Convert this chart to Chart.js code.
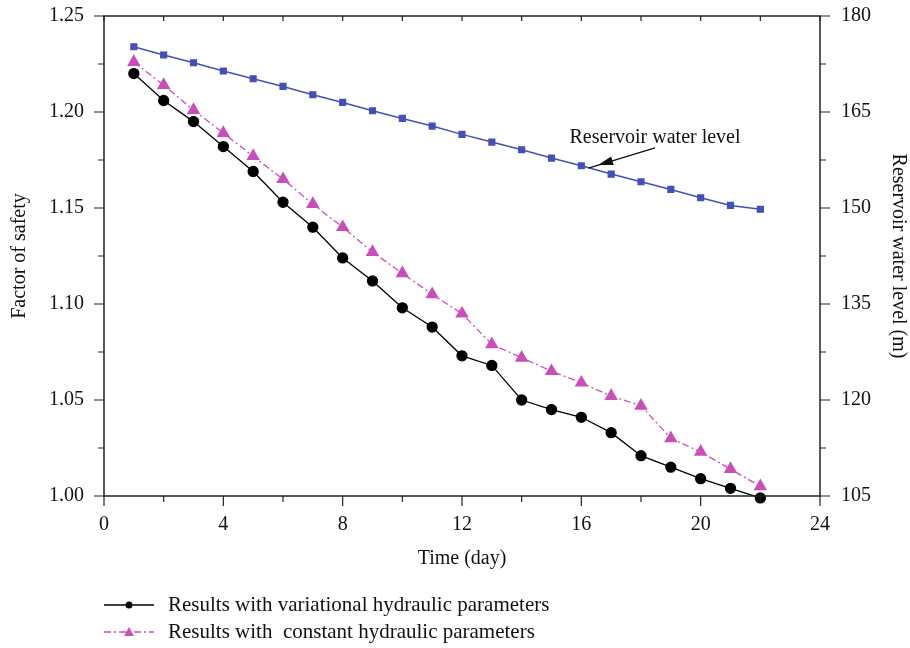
<!DOCTYPE html>
<html>
<head>
<meta charset="utf-8">
<title>Factor of safety vs time</title>
<script src="https://cdn.jsdelivr.net/npm/chart.js@4.4.1/dist/chart.umd.min.js"></script>
<style>
    html, body { margin: 0; padding: 0; background: #fff; }
    #wrap { width: 910px; height: 648px; position: relative; }
</style>
</head>
<body>
<div id="wrap"><canvas id="fosChart"></canvas></div>
<script>
// Days (x axis)
const days = [1, 2, 3, 4, 5, 6, 7, 8, 9, 10, 11, 12, 13, 14, 15, 16, 17, 18, 19, 20, 21, 22];

// Factor of safety, variational hydraulic parameters
const fosVariational = [1.220, 1.206, 1.195, 1.182, 1.169, 1.153, 1.140, 1.124, 1.112, 1.098, 1.088,
    1.073, 1.068, 1.050, 1.045, 1.041, 1.033, 1.021, 1.015, 1.009, 1.004, 0.999];

// Factor of safety, constant hydraulic parameters
const fosConstant = [1.226, 1.214, 1.201, 1.189, 1.177, 1.165, 1.152, 1.140, 1.127, 1.116, 1.105,
    1.095, 1.079, 1.072, 1.065, 1.059, 1.052, 1.047, 1.030, 1.023, 1.014, 1.005];

// Reservoir water level (m), right axis
const waterLevel = [175.2, 173.9, 172.7, 171.4, 170.2, 169.0, 167.7, 166.5, 165.2, 164.0, 162.8,
    161.5, 160.3, 159.1, 157.8, 156.6, 155.3, 154.1, 152.9, 151.6, 150.4, 149.8];

// Axis ranges / ticks
const xTicks = [0, 4, 8, 12, 16, 20, 24];
const yLeftTicks = [1.00, 1.05, 1.10, 1.15, 1.20, 1.25];
const yRightTicks = [105, 120, 135, 150, 165, 180];

const legendLabels = ['Results with variational hydraulic parameters', 'Results with  constant hydraulic parameters'];
const annotationText = 'Reservoir water level';

const FONT = "'Liberation Serif', 'DejaVu Serif', serif";
const AXIS_COLOR = '#222';

function toPoints(values) {
    return days.map((d, i) => ({ x: d, y: values[i] }));
}

// Fixed box sizes so the plot area lands where the reference has it
function fitVertical(width) {
    return s => {
        s.width = width;
        s.paddingTop = 0;
        s.paddingBottom = 0;
    };
}

// Frame, tick marks, annotation and legend
const decorPlugin = {
    id: 'decor',
    afterDraw(chart) {
        const ctx = chart.ctx;
        const area = chart.chartArea;
        const sx = chart.scales.x;
        const sy = chart.scales.y;
        const sy2 = chart.scales.y2;

        ctx.save();
        ctx.strokeStyle = AXIS_COLOR;
        ctx.lineWidth = 1.5;
        ctx.strokeRect(area.left, area.top, area.right - area.left, area.bottom - area.top);

        ctx.lineWidth = 1.2;
        ctx.beginPath();
        // x ticks: major every 4, minor every 2
        for (let v = 0; v <= 24; v += 2) {
            const px = sx.getPixelForValue(v);
            const len = v % 4 === 0 ? 10 : 6;
            ctx.moveTo(px, area.bottom);
            ctx.lineTo(px, area.bottom + len);
            ctx.moveTo(px, area.top);
            ctx.lineTo(px, area.top + 5);
        }
        // left ticks
        for (let v = 1.0; v <= 1.2501; v += 0.025) {
            const py = sy.getPixelForValue(v);
            const major = Math.abs(Math.round(v * 1000) % 50) < 1;
            ctx.moveTo(area.left - (major ? 10 : 6), py);
            ctx.lineTo(area.left, py);
        }
        // right ticks
        for (let v = 105; v <= 180.01; v += 7.5) {
            const py = sy2.getPixelForValue(v);
            const major = Math.abs((v - 105) % 15) < 0.01;
            ctx.moveTo(area.right, py);
            ctx.lineTo(area.right + (major ? 10 : 6), py);
        }
        ctx.stroke();

        // Annotation with arrow, anchored in data coordinates
        const tx = sx.getPixelForValue(18.47);
        const ty = sy2.getPixelForValue(160.9);
        ctx.fillStyle = '#111';
        ctx.font = `20px ${FONT}`;
        ctx.textAlign = 'center';
        ctx.textBaseline = 'middle';
        ctx.fillText(annotationText, tx, ty);

        const ax0 = sx.getPixelForValue(18.47), ay0 = sy2.getPixelForValue(159.4);
        const ax1 = sx.getPixelForValue(16.56), ay1 = sy2.getPixelForValue(156.7);
        const ang = Math.atan2(ay1 - ay0, ax1 - ax0);
        ctx.strokeStyle = '#111';
        ctx.lineWidth = 1.3;
        ctx.beginPath();
        ctx.moveTo(ax0, ay0);
        ctx.lineTo(ax1 + 10 * Math.cos(ang), ay1 + 10 * Math.sin(ang));
        ctx.stroke();
        ctx.beginPath();
        ctx.moveTo(ax1, ay1);
        ctx.lineTo(ax1 - 15 * Math.cos(ang) + 4.5 * Math.sin(ang), ay1 - 15 * Math.sin(ang) - 4.5 * Math.cos(ang));
        ctx.lineTo(ax1 - 15 * Math.cos(ang) - 4.5 * Math.sin(ang), ay1 - 15 * Math.sin(ang) + 4.5 * Math.cos(ang));
        ctx.closePath();
        ctx.fill();

        // Legend (bottom left)
        const legendX = 104;
        const legendY = [605, 632];
        [0, 1].forEach(i => {
            const ds = chart.data.datasets[i];
            const y = legendY[i];
            ctx.strokeStyle = ds.borderColor;
            ctx.lineWidth = ds.borderWidth;
            ctx.setLineDash(ds.borderDash || []);
            ctx.beginPath();
            ctx.moveTo(legendX, y);
            ctx.lineTo(legendX + 50, y);
            ctx.stroke();
            ctx.setLineDash([]);
            ctx.fillStyle = ds.pointBackgroundColor;
            const cx = legendX + 25;
            if (ds.pointStyle === 'triangle') {
                ctx.beginPath();
                ctx.moveTo(cx, y - 5);
                ctx.lineTo(cx + 5, y + 4);
                ctx.lineTo(cx - 5, y + 4);
                ctx.closePath();
                ctx.fill();
            } else {
                ctx.beginPath();
                ctx.arc(cx, y, 3.5, 0, Math.PI * 2);
                ctx.fill();
            }
            ctx.fillStyle = '#111';
            ctx.font = `21px ${FONT}`;
            ctx.textAlign = 'left';
            ctx.textBaseline = 'middle';
            ctx.fillText(legendLabels[i], legendX + 64, y);
        });
        ctx.restore();
    }
};

const canvas = document.getElementById('fosChart');
canvas.width = 910;
canvas.height = 648;

new Chart(canvas, {
    type: 'line',
    data: {
        datasets: [
            {
                label: legendLabels[0],
                data: toPoints(fosVariational),
                yAxisID: 'y',
                borderColor: '#000',
                borderWidth: 1.3,
                pointStyle: 'circle',
                pointRadius: 5,
                pointBackgroundColor: '#000',
                pointBorderColor: '#000',
                tension: 0
            },
            {
                label: legendLabels[1],
                data: toPoints(fosConstant),
                yAxisID: 'y',
                borderColor: '#c94fb8',
                borderWidth: 1.3,
                borderDash: [7, 3, 2, 3],
                pointStyle: 'triangle',
                pointRadius: 6.5,
                pointBackgroundColor: '#c94fb8',
                pointBorderColor: '#c94fb8',
                tension: 0
            },
            {
                label: 'Reservoir water level',
                data: toPoints(waterLevel),
                yAxisID: 'y2',
                borderColor: '#4450b4',
                borderWidth: 1.5,
                pointStyle: 'rect',
                pointRadius: 4,
                pointBackgroundColor: '#4450b4',
                pointBorderColor: '#4450b4',
                tension: 0
            }
        ]
    },
    options: {
        responsive: false,
        animation: false,
        clip: false,
        layout: {
            autoPadding: false,
            padding: { left: 0, right: 0, top: 16, bottom: 72 }
        },
        plugins: {
            legend: { display: false },
            tooltip: { enabled: false }
        },
        scales: {
            x: {
                type: 'linear',
                min: 0,
                max: 24,
                afterFit: s => {
                    s.height = 80;
                    s.paddingLeft = 0;
                    s.paddingRight = 0;
                },
                afterBuildTicks: s => { s.ticks = xTicks.map(v => ({ value: v })); },
                grid: { display: false },
                border: { display: false },
                ticks: {
                    color: '#111',
                    font: { family: FONT, size: 20 },
                    padding: 9,
                    maxRotation: 0
                },
                title: {
                    display: true,
                    text: 'Time (day)',
                    color: '#111',
                    font: { family: FONT, size: 20 },
                    padding: { top: 0, bottom: 5 }
                }
            },
            y: {
                type: 'linear',
                position: 'left',
                min: 1.0,
                max: 1.25,
                afterFit: fitVertical(104),
                afterBuildTicks: s => { s.ticks = yLeftTicks.map(v => ({ value: v })); },
                grid: { display: false },
                border: { display: false },
                ticks: {
                    color: '#111',
                    font: { family: FONT, size: 20 },
                    padding: 12,
                    callback: v => v.toFixed(2)
                },
                title: {
                    display: true,
                    text: 'Factor of safety',
                    color: '#111',
                    font: { family: FONT, size: 20 },
                    padding: { top: 8, bottom: 0 }
                }
            },
            y2: {
                type: 'linear',
                position: 'right',
                min: 105,
                max: 180,
                afterFit: fitVertical(90),
                afterBuildTicks: s => { s.ticks = yRightTicks.map(v => ({ value: v })); },
                grid: { display: false },
                border: { display: false },
                ticks: {
                    color: '#111',
                    font: { family: FONT, size: 20 },
                    padding: 13
                },
                title: {
                    display: true,
                    text: 'Reservoir water level (m)',
                    color: '#111',
                    font: { family: FONT, size: 20 },
                    padding: { top: 0, bottom: 0 }
                }
            }
        }
    },
    plugins: [decorPlugin]
});
</script>
</body>
</html>
